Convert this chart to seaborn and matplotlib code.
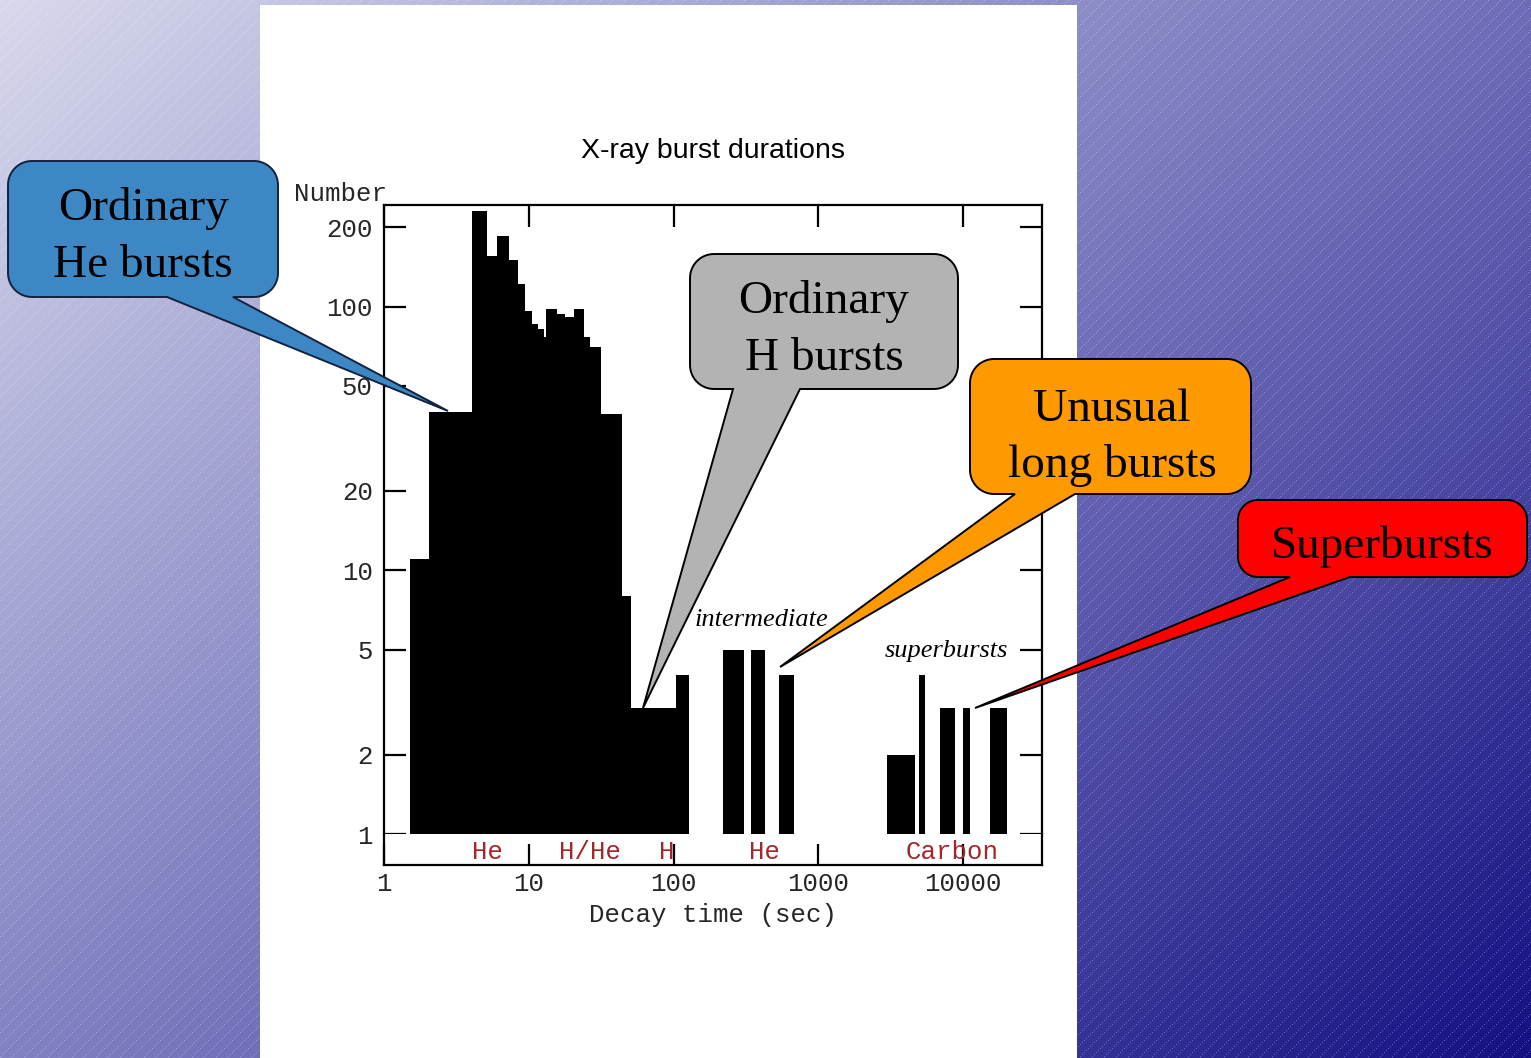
import numpy as np
import pandas as pd
import matplotlib
matplotlib.use("Agg")
import matplotlib.pyplot as plt
from matplotlib.patches import Rectangle, Polygon
from matplotlib.ticker import NullLocator, FixedLocator, FixedFormatter
import seaborn as sns

# ---------------------------------------------------------------------------
# Data: number of X-ray bursts per decay-time bin (seconds)
# ---------------------------------------------------------------------------
bin_lo = [1.52, 2.06, 4.04, 5.08, 6.05, 7.16, 8.26, 9.23, 10.3, 11.4, 12.5,
          13.2, 15.3, 17.6, 20.4, 23.5, 25.9, 30.8, 43.4, 50.1, 104,
          219, 340, 533,
          2970, 4940, 6940, 9930, 15200]
bin_hi = [2.06, 4.04, 5.08, 6.05, 7.16, 8.26, 9.23, 10.3, 11.4, 12.5, 13.2,
          15.3, 17.6, 20.4, 23.5, 25.9, 30.8, 43.4, 50.1, 104, 125,
          301, 420, 673,
          4540, 5400, 8610, 11050, 19600]
counts = [11, 40, 230, 155, 185, 150, 122, 96, 86, 82, 77,
          98, 94, 91, 98, 77, 70, 39, 8, 3, 4,
          5, 5, 4,
          2, 4, 3, 3, 3]

y_ticks = [1, 2, 5, 10, 20, 50, 100, 200]
x_ticks = [1, 10, 100, 1000, 10000]

fuel_labels = ["He", "H/He", "H", "He", "Carbon"]
fuel_label_x = [5.2, 26.3, 89, 425, 8440]

group_labels = ["intermediate", "superbursts"]
group_label_x = [405, 7670]
group_label_y = [6.5, 4.95]

callout_texts = ["Ordinary\nHe bursts", "Ordinary\nH bursts",
                 "Unusual\nlong bursts", "Superbursts"]

# ---------------------------------------------------------------------------
W, H = 1531, 1058
MONO = "Liberation Mono"
SERIF = "Liberation Serif"
SANS = "Liberation Sans"
INK = "#262626"

sns.set_style("white")
plt.rcParams["font.family"] = ["DejaVu Sans"]

fig = plt.figure(figsize=(W / 100, H / 100), dpi=100)

# Slide background: diagonal gradient with fine dotted pinstripes
bg = fig.add_axes([0, 0, 1, 1], zorder=-5)
yy, xx = np.mgrid[0:H, 0:W]
s = np.clip(0.55 * xx / W + 0.45 * yy / H, 0, 1)[..., None]
c0 = np.array([216, 217, 236]) / 255
c1 = np.array([120, 120, 190]) / 255
c2 = np.array([20, 16, 130]) / 255
img = np.where(s < 0.5, c0 + (c1 - c0) * (s / 0.5), c1 + (c2 - c1) * ((s - 0.5) / 0.5))
stripe = (((xx + yy) % 12) == 0) & ((xx % 2) == 0)
img[stripe] = img[stripe] * 0.7 + 0.3
bg.imshow(img, extent=(0, W, H, 0), aspect="auto", interpolation="nearest")
bg.add_patch(Rectangle((260, 5), 1077 - 260, H - 5, facecolor="white", edgecolor="none"))
bg.set_xlim(0, W)
bg.set_ylim(H, 0)
bg.axis("off")

# ---------------------------------------------------------------------------
# Histogram panel (counts >= 1) and the fuel strip underneath
# ---------------------------------------------------------------------------
left, right, top, mid, bottom = 384, 1042, 205, 834, 865
ax = fig.add_axes([left / W, 1 - mid / H, (right - left) / W, (mid - top) / H])
axb = fig.add_axes([left / W, 1 - bottom / H, (right - left) / W, (bottom - mid) / H])

df = pd.DataFrame({
    "decay": np.sqrt(np.array(bin_lo) * np.array(bin_hi)),
    "count": counts,
})
edges = np.unique(np.concatenate([bin_lo, bin_hi]))
sns.histplot(data=df, x="decay", weights="count", bins=list(np.log10(edges)),
             log_scale=True, stat="count", element="bars", fill=True,
             color="black", alpha=1, edgecolor="black", linewidth=0.5,
             antialiased=False, ax=ax)
ax.set_yscale("log", nonpositive="clip")

xmax = 10 ** ((right - left) / 144.8)
ymax = 10 ** ((mid - top) / 263.7)
ax.set_xlim(1, xmax)
ax.set_ylim(1, ymax)
ax.set_xlabel("")
ax.set_ylabel("")
ax.set_facecolor("white")

for name, sp in ax.spines.items():
    sp.set_color("black")
    sp.set_linewidth(1.6)
ax.spines["bottom"].set_visible(False)

ax.xaxis.set_major_locator(FixedLocator(x_ticks))
ax.xaxis.set_minor_locator(NullLocator())
ax.tick_params(axis="x", which="major", direction="in", length=16, width=1.6,
               top=True, bottom=False, labeltop=False, labelbottom=False, color="black")
ax.yaxis.set_major_locator(FixedLocator(y_ticks))
ax.yaxis.set_major_formatter(FixedFormatter([str(v) for v in y_ticks]))
ax.yaxis.set_minor_locator(NullLocator())
ax.tick_params(axis="y", which="major", direction="in", length=15.5, width=1.6,
               left=True, right=True, labelleft=True, labelright=False,
               pad=8, labelsize=18.5, labelcolor=INK, color="black")
for lab in ax.get_yticklabels():
    lab.set_fontfamily(MONO)

ax.set_title("X-ray burst durations", fontfamily=SANS, fontsize=20.5, color="black", pad=34)
ax.text(0.004, (mid - 194) / (mid - top), "Number", transform=ax.transAxes,
        ha="right", va="center", fontfamily=MONO, fontsize=18.5, color=INK)

for lab, gx, gy in zip(group_labels, group_label_x, group_label_y):
    ax.text(gx, gy, lab, ha="center", va="center", fontfamily=SERIF,
            fontstyle="italic", fontsize=19, color="black")

# Fuel strip
axb.set_xscale("log")
axb.set_xlim(1, xmax)
axb.set_ylim(0, 1)
axb.set_facecolor("white")
for name, sp in axb.spines.items():
    sp.set_color("black")
    sp.set_linewidth(1.6)
axb.spines["top"].set_visible(False)
axb.xaxis.set_major_locator(FixedLocator(x_ticks))
axb.xaxis.set_major_formatter(FixedFormatter([str(v) for v in x_ticks]))
axb.xaxis.set_minor_locator(NullLocator())
axb.tick_params(axis="x", which="major", direction="in", length=15, width=1.6,
                bottom=True, top=False, pad=5, labelsize=18.5, labelcolor=INK, color="black")
for lab in axb.get_xticklabels():
    lab.set_fontfamily(MONO)
axb.set_yticks([])
for lab, fx in zip(fuel_labels, fuel_label_x):
    axb.text(fx, 0.42, lab, ha="center", va="center", fontfamily=MONO,
             fontsize=18.5, color="#a3262a", zorder=1)
axb.set_xlabel("Decay time (sec)", fontfamily=MONO, fontsize=18.5, color=INK, labelpad=5)

# ---------------------------------------------------------------------------
# Speech-bubble callouts
# ---------------------------------------------------------------------------
ov = fig.add_axes([0, 0, 1, 1], zorder=10)
ov.set_xlim(0, W)
ov.set_ylim(H, 0)
ov.axis("off")
ov.patch.set_alpha(0)


def callout(box, r, base, tip, face, edge, lines, baselines, xc):
    x0, y0, x1, y1 = box
    pts = []

    def arc(cx, cy, a0, a1):
        for t in np.linspace(np.radians(a0), np.radians(a1), 16):
            pts.append((cx + r * np.cos(t), cy + r * np.sin(t)))

    arc(x1 - r, y0 + r, -90, 0)
    arc(x1 - r, y1 - r, 0, 90)
    pts.extend([(base[1], y1), tip, (base[0], y1)])
    arc(x0 + r, y1 - r, 90, 180)
    arc(x0 + r, y0 + r, 180, 270)
    ov.add_patch(Polygon(pts, closed=True, facecolor=face, edgecolor=edge,
                         linewidth=1.4, joinstyle="miter"))
    for line, yb in zip(lines, baselines):
        ov.text(xc, yb, line, ha="center", va="baseline", fontfamily=SERIF,
                fontsize=34, color="black")


callout((8, 161, 278, 297), 24, (167, 233), (448, 411), "#3d87c4", "#12223f",
        callout_texts[0].split("\n"), [220, 277], 143)
callout((690, 254, 958, 389), 24, (733, 800), (643, 708), "#b3b3b3", "black",
        callout_texts[1].split("\n"), [313, 370], 824)
callout((970, 359, 1251, 494), 24, (1015, 1075), (780, 667), "#ff9900", "black",
        callout_texts[2].split("\n"), [421, 477], 1112)
callout((1238, 500, 1527, 577), 20, (1290, 1350), (975, 708), "#ff0000", "black",
        callout_texts[3].split("\n"), [558], 1382)

fig.savefig("out.png", dpi=100)
